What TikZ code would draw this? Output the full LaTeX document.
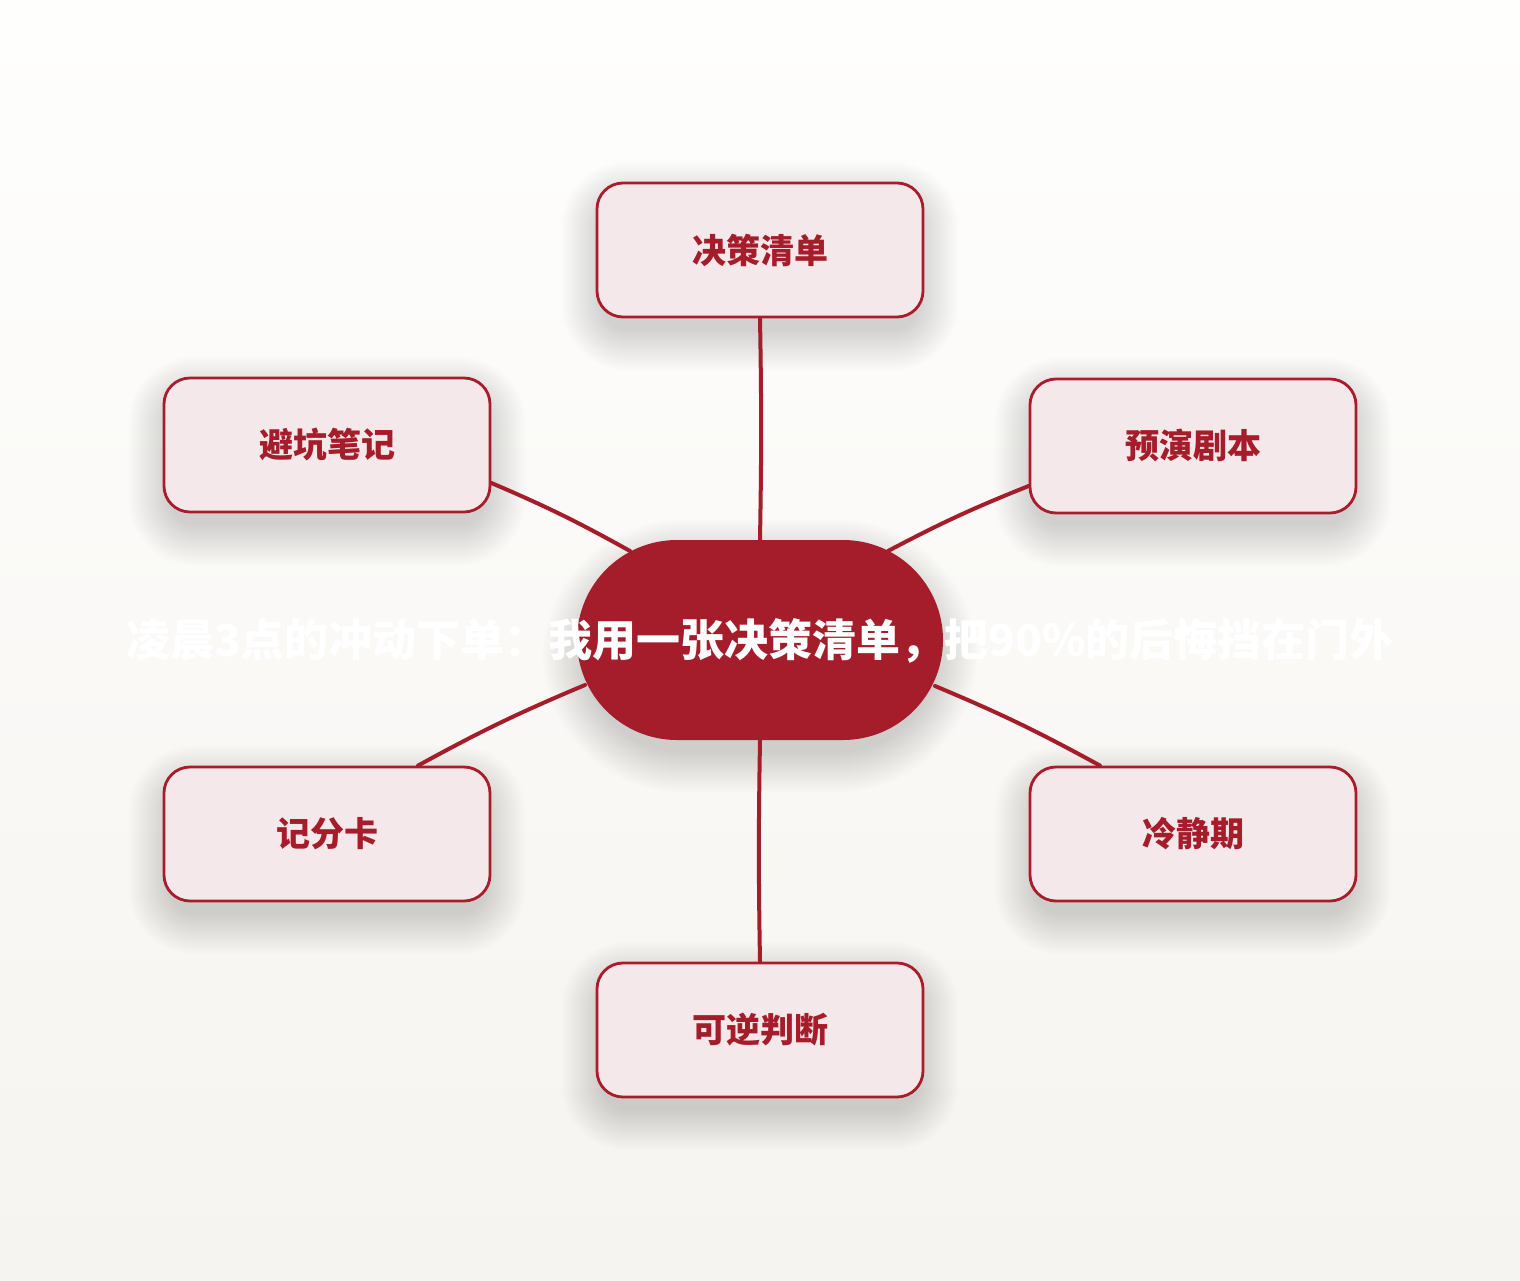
\documentclass[tikz,border=0pt]{standalone}
\usepackage{fontspec}
\newfontfamily\cjk{Noto Sans CJK SC}
\usetikzlibrary{backgrounds}
\definecolor{deepred}{HTML}{A51C2A}
\definecolor{nodefill}{HTML}{F5E8EA}
\definecolor{nodeline}{HTML}{A81C2C}
\definecolor{bgtop}{HTML}{FEFEFD}
\definecolor{bgbot}{HTML}{F6F4F0}
\definecolor{shadowcol}{HTML}{3A3530}
\tikzset{
  leaf/.style={draw=nodeline, line width=1.4pt, fill=nodefill, rounded corners=13pt,
    minimum width=163pt, minimum height=67pt, inner sep=0pt,
    font=\cjk\bfseries\fontsize{17pt}{20pt}\selectfont, text=deepred},
  hub/.style={fill=deepred, rounded corners=50pt, minimum width=183pt, minimum height=100pt,
    inner sep=0pt},
  titletext/.style={font=\cjk\bfseries\fontsize{22pt}{26pt}\selectfont, text=white, inner sep=0pt},
  link/.style={draw=deepred, line width=2pt, line cap=round},
  softshade/.style={fill=shadowcol, opacity=0.008}
}
% soft shadow under a node: #1 node name, #2 base corner radius (pt)
\newcommand{\softshadow}[2]{%
  \foreach \i in {0,...,20}{%
    \pgfmathsetmacro{\rr}{#2+\i*1.0}%
    \fill[softshade, rounded corners=\rr pt]
      ([shift={(-2*\i+6,-2*\i+20)}]#1.north west) rectangle
      ([shift={(2*\i-6,2*\i+12)}]#1.south east);
  }%
}
\begin{document}
\begin{tikzpicture}[x=0.5pt,y=-0.5pt]
\useasboundingbox (0,0) rectangle (1520,1280);

\node[hub] (c) at (760,640) {};

\node[leaf] (t)  at (760,250)  {决策清单};
\node[leaf] (ul) at (327,445)  {避坑笔记};
\node[leaf] (ur) at (1193,446) {预演剧本};
\node[leaf] (ll) at (327,834)  {记分卡};
\node[leaf] (lr) at (1193,834) {冷静期};
\node[leaf] (b)  at (760,1030) {可逆判断};

\begin{scope}[on background layer]
  \shade[top color=bgtop, bottom color=bgbot] (0,0) rectangle (1520,1280);
  \softshadow{c}{50}
  \softshadow{t}{13}
  \softshadow{ul}{13}
  \softshadow{ur}{13}
  \softshadow{ll}{13}
  \softshadow{lr}{13}
  \softshadow{b}{13}
  \draw[link] (t.south) to[bend left=1] (c.north);
  \draw[link] ([shift={(0,38)}]ul.east) to[bend left=3] ([shift={(-130,-89)}]c.center);
  \draw[link] ([shift={(0,40)}]ur.west) to[bend right=3] ([shift={(128,-89)}]c.center);
  \draw[link] ([shift={(91,0)}]ll.north) to[bend left=3] ([shift={(-175,45)}]c.center);
  \draw[link] ([shift={(-93,0)}]lr.north) to[bend right=3] ([shift={(175,46)}]c.center);
  \draw[link] (c.south) to[bend right=1] (b.north);
\end{scope}

\node[titletext] (title) at (760,641) {凌晨3点的冲动下单：我用一张决策清单，把90\%的后悔挡在门外};
\end{tikzpicture}
\end{document}
